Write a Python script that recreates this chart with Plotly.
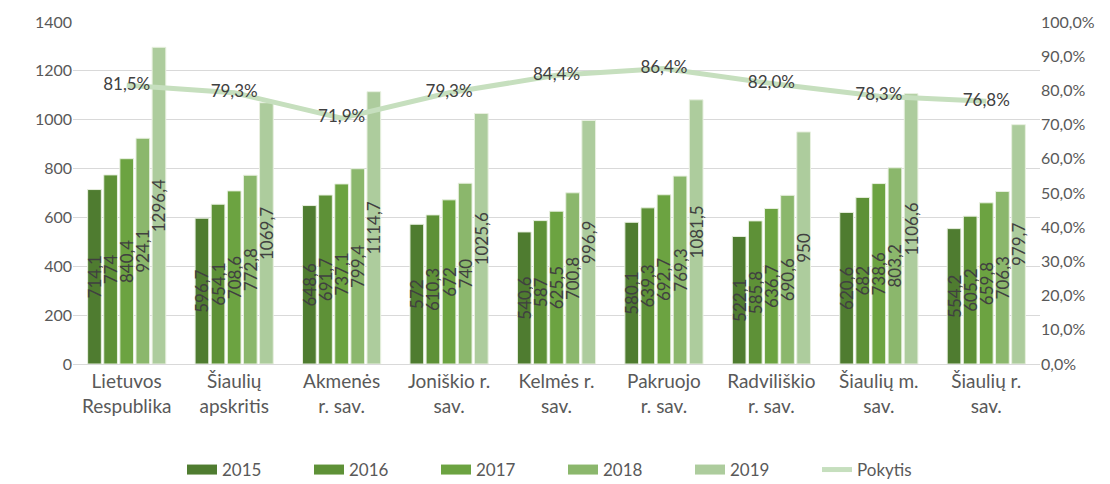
import plotly.graph_objects as go

categories = ["Lietuvos<br>Respublika", "Šiaulių<br>apskritis", "Akmenės<br>r. sav.", "Joniškio r.<br>sav.",
              "Kelmės r.<br>sav.", "Pakruojo<br>r. sav.", "Radviliškio<br>r. sav.", "Šiaulių m.<br>sav.", "Šiaulių r.<br>sav."]
years = ["2015", "2016", "2017", "2018", "2019"]
v2015 = [714.1, 596.7, 648.6, 572, 540.6, 580.1, 522.1, 620.6, 554.2]
v2016 = [774, 654.1, 691.7, 610.3, 587, 639.3, 585.8, 682, 605.2]
v2017 = [840.4, 708.6, 737.1, 672, 625.5, 692.7, 636.7, 738.6, 659.8]
v2018 = [924.1, 772.8, 799.4, 740, 700.8, 769.3, 690.6, 803.2, 706.3]
v2019 = [1296.4, 1069.7, 1114.7, 1025.6, 996.9, 1081.5, 950, 1106.6, 979.7]
pokytis = [81.5, 79.3, 71.9, 79.3, 84.4, 86.4, 82.0, 78.3, 76.8]
left_ticks = [0, 200, 400, 600, 800, 1000, 1200, 1400]
right_ticks = [0, 10, 20, 30, 40, 50, 60, 70, 80, 90, 100]

colors = ["#4f7c30", "#5e9137", "#6ca341", "#8bb76c", "#adcc9d"]
line_color = "#c6dfbe"
font = "Lato, Calibri, Carlito, sans-serif"
txt = "#404040"

def fmt(v):
    s = ("%.1f" % v)
    if s.endswith(".0"):
        s = s[:-2]
    return s.replace(".", ",")

def pct(v):
    return ("%.1f" % v).replace(".", ",") + "%"

fig = go.Figure()
for y, vals, c in zip(years, [v2015, v2016, v2017, v2018, v2019], colors):
    fig.add_trace(go.Bar(
        name=y, x=categories, y=vals, marker=dict(color=c, line=dict(color="#e8f0e0", width=1)),
        text=[fmt(v) for v in vals], textposition="inside", insidetextanchor="middle",
        textangle=-90, constraintext="none", showlegend=False,
        textfont=dict(color=txt, size=17, family=font), cliponaxis=False,
    ))

fig.add_trace(go.Scatter(
    name="Pokytis", x=categories, y=pokytis, yaxis="y2", mode="lines+text",
    line=dict(color=line_color, width=5), showlegend=False,
    text=[pct(v) for v in pokytis], textposition="middle center",
    textfont=dict(color=txt, size=17, family=font),
))

# legend entries
for y, c in zip(years, colors):
    fig.add_trace(go.Scatter(name=y, x=[None], y=[None], mode="lines",
                             line=dict(color=c, width=10)))
fig.add_trace(go.Scatter(name="Pokytis", x=[None], y=[None], mode="lines", yaxis="y2",
                         line=dict(color=line_color, width=5)))

fig.update_layout(
    width=1110, height=484,
    margin=dict(l=65, r=78, t=14, b=128, autoexpand=False),
    paper_bgcolor="white", plot_bgcolor="white",
    barmode="group", bargap=0.25, bargroupgap=0.15,
    font=dict(family=font, color="#595959", size=16),
    uniformtext=dict(mode="show", minsize=14),
    xaxis=dict(tickfont=dict(size=19, color="#595959"), showline=True, linecolor="#d9d9d9", linewidth=1,
               ticks="", showgrid=False),
    yaxis=dict(range=[0, 1400], tickvals=left_ticks, showgrid=True, gridcolor="#d9d9d9", gridwidth=1,
               zeroline=False, tickfont=dict(size=16, color="#595959"), ticks=""),
    yaxis2=dict(range=[0, 100], tickvals=right_ticks, overlaying="y", side="right",
                ticktext=[pct(t) for t in right_ticks],
                showgrid=False, zeroline=False, tickfont=dict(size=16, color="#595959")),
    legend=dict(orientation="h", x=0.5, xanchor="center", xref="container",
                y=22 / 484, yanchor="middle", yref="container",
                entrywidth=82, entrywidthmode="pixels",
                font=dict(size=17, color="#595959"), traceorder="normal"),
    showlegend=True,
)

fig.write_html("out.html")
